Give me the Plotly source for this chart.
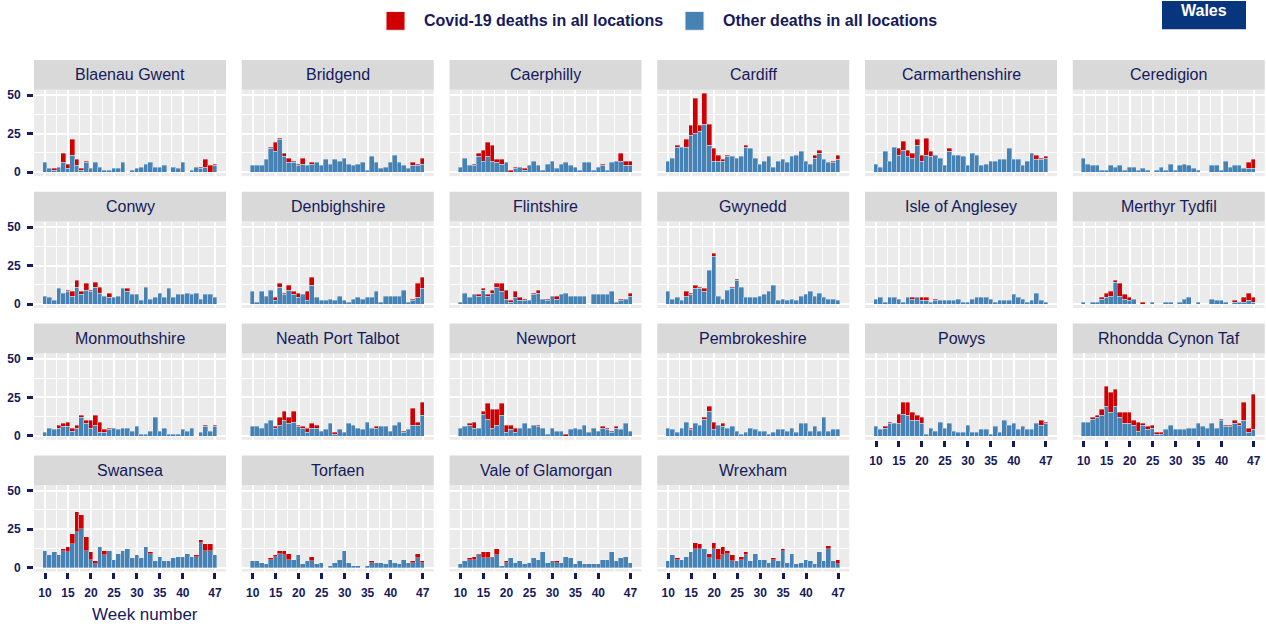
import plotly.graph_objects as go

# data: weekly deaths, weeks 10-47 (2020), by local authority
WEEKS = list(range(10, 48))
TICK_WEEKS = [10, 15, 20, 25, 30, 35, 40, 47]
MINOR_WEEKS = [12.5, 17.5, 22.5, 27.5, 32.5, 37.5, 43.5]
Y_TICKS = [0, 25, 50]
Y_MINOR = [12.5, 37.5]

LEGEND_COVID = "Covid-19 deaths in all locations"
LEGEND_OTHER = "Other deaths in all locations"

blaenau_gwent_other = [6, 2, 1, 3, 6, 2, 11, 4, 1, 6, 2, 6, 3, 1, 1, 2, 2, 6, 0, 1,
                       2, 3, 5, 6, 3, 3, 4, 0, 3, 2, 6, 0, 1, 3, 2, 3, 0, 4]
blaenau_gwent_covid = [0, 0, 1, 0, 6, 3, 10, 4, 1, 1, 0, 0, 0, 0, 0, 0, 0, 0, 0, 0,
                       0, 0, 0, 0, 0, 0, 0, 0, 0, 0, 0, 0, 0, 0, 1, 5, 4, 1]
bridgend_other = [4, 4, 4, 8, 15, 13, 21, 10, 6, 6, 4, 5, 4, 5, 6, 4, 8, 5, 8, 7,
                  9, 5, 4, 5, 6, 1, 10, 6, 2, 3, 6, 11, 6, 4, 2, 4, 4, 5]
bridgend_covid = [0, 0, 0, 0, 1, 6, 1, 2, 3, 1, 1, 4, 0, 1, 0, 0, 0, 0, 0, 0,
                  0, 0, 0, 0, 0, 0, 0, 0, 0, 0, 0, 0, 0, 0, 0, 2, 1, 4]
caerphilly_other = [3, 9, 4, 4, 10, 7, 10, 7, 6, 5, 6, 0, 2, 3, 1, 4, 7, 4, 1, 5,
                    7, 2, 5, 6, 4, 3, 1, 6, 6, 1, 3, 4, 1, 6, 7, 7, 4, 4]
caerphilly_covid = [0, 0, 0, 1, 2, 7, 9, 10, 2, 3, 0, 1, 1, 0, 1, 0, 0, 0, 0, 0,
                    0, 0, 0, 0, 0, 0, 0, 0, 0, 0, 0, 1, 0, 0, 0, 5, 3, 3]
cardiff_other = [7, 9, 16, 16, 16, 24, 25, 26, 31, 17, 7, 7, 7, 10, 10, 9, 10, 16, 15, 9,
                 5, 7, 10, 3, 7, 8, 6, 10, 11, 13, 7, 5, 9, 12, 8, 6, 6, 8]
cardiff_covid = [0, 0, 1, 0, 5, 6, 23, 4, 20, 14, 8, 4, 1, 1, 0, 0, 0, 1, 0, 0,
                 0, 0, 0, 0, 0, 0, 0, 0, 0, 0, 0, 0, 2, 2, 0, 0, 1, 3]
carmarthenshire_other = [5, 3, 13, 7, 16, 11, 14, 10, 9, 17, 7, 11, 10, 11, 9, 4, 13, 11, 11, 10,
                         4, 12, 11, 4, 5, 7, 7, 8, 8, 15, 8, 8, 4, 7, 12, 8, 8, 9]
carmarthenshire_covid = [0, 0, 0, 0, 0, 4, 6, 4, 3, 4, 4, 11, 3, 0, 0, 0, 2, 0, 0, 0,
                         0, 0, 0, 0, 0, 0, 0, 0, 0, 0, 0, 0, 0, 0, 0, 3, 1, 1]
ceredigion_other = [9, 5, 4, 4, 1, 1, 4, 3, 4, 1, 3, 3, 1, 2, 1, 0, 1, 3, 1, 5,
                    1, 4, 5, 4, 2, 1, 0, 0, 4, 4, 1, 7, 3, 4, 4, 2, 2, 2]
ceredigion_covid = [0, 0, 0, 0, 0, 0, 0, 0, 0, 0, 0, 0, 0, 0, 0, 0, 0, 0, 0, 0,
                    0, 0, 0, 0, 0, 0, 0, 0, 0, 0, 0, 0, 0, 0, 0, 0, 4, 6]
conwy_other = [5, 4, 2, 10, 7, 8, 5, 11, 6, 9, 8, 11, 7, 5, 4, 4, 5, 10, 8, 6,
               6, 2, 11, 3, 4, 7, 4, 10, 4, 6, 6, 7, 6, 7, 3, 6, 6, 4]
conwy_covid = [0, 0, 0, 0, 0, 1, 3, 4, 2, 4, 1, 3, 4, 0, 3, 0, 0, 0, 2, 0,
               0, 0, 0, 0, 0, 0, 0, 0, 0, 0, 0, 0, 0, 0, 0, 0, 0, 0]
denbighshire_other = [8, 1, 8, 5, 9, 2, 11, 6, 9, 6, 4, 6, 2, 12, 4, 2, 2, 3, 2, 5,
                      2, 1, 3, 4, 3, 4, 4, 8, 1, 5, 5, 5, 5, 9, 1, 2, 4, 10]
denbighshire_covid = [0, 0, 0, 0, 0, 2, 2, 1, 3, 2, 3, 0, 6, 5, 0, 0, 0, 0, 0, 0,
                      0, 0, 0, 0, 0, 0, 0, 0, 0, 0, 0, 0, 0, 0, 0, 1, 9, 7]
flintshire_other = [1, 7, 4, 6, 5, 9, 5, 7, 11, 8, 3, 1, 4, 2, 2, 2, 6, 7, 3, 2,
                    5, 3, 6, 7, 5, 5, 5, 5, 0, 6, 6, 6, 6, 8, 1, 2, 3, 5]
flintshire_covid = [0, 0, 0, 0, 1, 1, 1, 2, 2, 5, 6, 1, 4, 2, 1, 0, 1, 2, 0, 1,
                    0, 2, 0, 0, 0, 0, 0, 0, 0, 0, 0, 0, 0, 0, 0, 1, 0, 2]
gwynedd_other = [8, 3, 4, 2, 5, 6, 10, 10, 8, 22, 31, 5, 3, 9, 10, 15, 11, 4, 4, 4,
                 5, 6, 8, 12, 2, 3, 2, 3, 2, 5, 6, 8, 5, 7, 4, 3, 3, 2]
gwynedd_covid = [0, 0, 0, 0, 3, 1, 2, 1, 2, 0, 2, 0, 0, 0, 1, 1, 0, 0, 0, 0,
                 0, 0, 0, 0, 0, 0, 0, 0, 0, 0, 0, 0, 0, 0, 0, 0, 0, 0]
anglesey_other = [3, 4, 1, 4, 4, 3, 1, 4, 3, 4, 2, 2, 1, 2, 2, 2, 2, 2, 3, 1,
                  1, 3, 4, 4, 4, 3, 1, 2, 2, 2, 6, 4, 3, 1, 2, 7, 2, 1]
anglesey_covid = [0, 0, 0, 0, 0, 0, 0, 0, 1, 0, 2, 2, 0, 1, 0, 0, 0, 0, 0, 0,
                  0, 0, 0, 0, 0, 0, 0, 0, 0, 0, 0, 0, 0, 0, 0, 0, 0, 0]
merthyr_other = [1, 0, 1, 1, 3, 4, 5, 14, 5, 3, 2, 3, 0, 0, 0, 1, 0, 0, 1, 1,
                 0, 1, 3, 4, 0, 1, 0, 0, 3, 2, 2, 1, 0, 1, 1, 1, 2, 1]
merthyr_covid = [0, 0, 0, 0, 1, 3, 3, 1, 8, 3, 2, 0, 0, 1, 0, 0, 0, 0, 0, 0,
                 0, 0, 0, 0, 0, 0, 0, 0, 0, 0, 0, 0, 0, 1, 0, 3, 5, 3]
monmouthshire_other = [2, 5, 4, 5, 6, 6, 3, 5, 12, 8, 5, 7, 2, 2, 4, 5, 4, 5, 5, 3,
                       6, 1, 1, 3, 12, 3, 5, 1, 1, 1, 4, 3, 5, 0, 2, 6, 3, 6]
monmouthshire_covid = [0, 0, 0, 2, 2, 3, 2, 2, 1, 2, 5, 6, 7, 2, 1, 0, 0, 0, 0, 0,
                       0, 0, 0, 0, 0, 0, 0, 0, 0, 0, 0, 0, 0, 0, 0, 1, 0, 1]
neath_pt_other = [6, 6, 5, 8, 10, 5, 7, 10, 8, 9, 6, 5, 2, 5, 5, 3, 4, 8, 1, 4,
                  2, 8, 7, 5, 4, 9, 5, 5, 6, 6, 3, 7, 9, 2, 4, 7, 7, 13]
neath_pt_covid = [0, 0, 0, 0, 0, 1, 5, 6, 4, 7, 1, 1, 3, 3, 2, 0, 0, 0, 1, 0,
                  0, 0, 0, 0, 0, 0, 0, 1, 0, 0, 0, 0, 0, 1, 0, 11, 2, 9]
newport_other = [5, 6, 7, 5, 5, 14, 11, 5, 7, 13, 2, 4, 2, 5, 8, 5, 7, 6, 5, 1,
                 5, 3, 3, 0, 4, 5, 4, 7, 2, 5, 3, 5, 4, 2, 5, 4, 8, 3]
newport_covid = [0, 0, 1, 4, 0, 2, 10, 12, 10, 8, 5, 3, 3, 0, 0, 0, 0, 1, 0, 0,
                 0, 0, 0, 1, 0, 0, 0, 0, 0, 0, 0, 1, 1, 1, 1, 0, 0, 0]
pembrokeshire_other = [5, 4, 2, 5, 9, 4, 8, 7, 11, 16, 4, 7, 6, 5, 6, 3, 1, 2, 5, 4,
                       3, 3, 1, 2, 4, 4, 3, 5, 2, 8, 8, 3, 6, 3, 12, 3, 4, 4]
pembrokeshire_covid = [0, 0, 0, 0, 0, 1, 0, 0, 1, 3, 5, 0, 2, 0, 0, 0, 0, 0, 0, 0,
                       0, 0, 0, 0, 0, 0, 0, 0, 0, 0, 0, 0, 0, 0, 0, 0, 0, 0]
powys_other = [6, 4, 5, 8, 8, 8, 14, 13, 10, 10, 8, 1, 5, 3, 9, 5, 8, 3, 2, 2,
               7, 2, 2, 4, 4, 1, 6, 2, 10, 7, 8, 4, 6, 4, 4, 8, 7, 8]
powys_covid = [0, 0, 1, 1, 0, 6, 8, 9, 5, 3, 4, 0, 0, 0, 0, 0, 0, 0, 0, 0,
               0, 0, 0, 0, 0, 0, 0, 0, 0, 0, 0, 0, 0, 0, 0, 0, 3, 1]
rhondda_other = [9, 9, 11, 12, 13, 19, 15, 19, 12, 8, 8, 7, 3, 7, 4, 5, 1, 1, 4, 7,
                 4, 4, 4, 5, 5, 8, 6, 5, 8, 5, 10, 6, 6, 8, 7, 10, 2, 4]
rhondda_covid = [0, 0, 1, 1, 4, 13, 13, 11, 3, 7, 7, 3, 6, 1, 2, 2, 1, 1, 0, 0,
                 0, 0, 0, 0, 0, 0, 0, 0, 0, 0, 1, 1, 1, 2, 1, 12, 3, 23]
swansea_other = [11, 8, 10, 8, 11, 10, 15, 23, 25, 11, 5, 2, 13, 8, 11, 5, 9, 11, 12, 6,
                 8, 6, 13, 9, 4, 7, 4, 4, 6, 7, 7, 9, 7, 7, 16, 11, 11, 8]
swansea_covid = [0, 0, 0, 0, 1, 3, 7, 13, 9, 9, 5, 2, 0, 3, 0, 0, 0, 0, 0, 0,
                 0, 0, 0, 1, 0, 0, 0, 0, 0, 0, 0, 0, 0, 1, 2, 4, 4, 0]
torfaen_other = [4, 4, 3, 2, 5, 7, 9, 8, 5, 5, 8, 2, 4, 4, 2, 3, 0, 1, 3, 5,
                 11, 3, 1, 1, 0, 1, 3, 3, 3, 2, 5, 3, 2, 5, 3, 3, 6, 3]
torfaen_covid = [0, 0, 0, 0, 1, 1, 2, 3, 4, 0, 0, 0, 0, 3, 0, 0, 0, 0, 0, 0,
                 0, 0, 0, 0, 0, 0, 1, 0, 0, 0, 0, 0, 0, 0, 0, 1, 3, 1]
vale_other = [2, 4, 5, 5, 8, 6, 6, 6, 8, 1, 3, 6, 3, 4, 2, 3, 6, 5, 10, 3,
              4, 3, 3, 7, 6, 2, 4, 2, 2, 2, 2, 5, 5, 10, 4, 6, 7, 3]
vale_covid = [0, 0, 1, 2, 1, 4, 4, 1, 4, 0, 1, 0, 0, 0, 0, 0, 0, 0, 0, 0,
              0, 1, 0, 0, 0, 0, 0, 0, 0, 0, 0, 0, 0, 0, 0, 0, 0, 0]
wrexham_other = [4, 8, 5, 5, 7, 10, 12, 12, 12, 6, 12, 5, 8, 9, 4, 4, 5, 8, 4, 9,
                 5, 5, 3, 5, 4, 11, 3, 9, 2, 3, 5, 4, 2, 10, 4, 12, 4, 2]
wrexham_covid = [0, 0, 1, 0, 0, 0, 4, 3, 0, 3, 4, 7, 5, 2, 4, 0, 2, 2, 0, 0,
                 0, 0, 0, 1, 0, 1, 0, 0, 0, 0, 0, 0, 0, 0, 0, 2, 0, 3]

AREAS = [
    ("Blaenau Gwent", blaenau_gwent_other, blaenau_gwent_covid),
    ("Bridgend", bridgend_other, bridgend_covid),
    ("Caerphilly", caerphilly_other, caerphilly_covid),
    ("Cardiff", cardiff_other, cardiff_covid),
    ("Carmarthenshire", carmarthenshire_other, carmarthenshire_covid),
    ("Ceredigion", ceredigion_other, ceredigion_covid),
    ("Conwy", conwy_other, conwy_covid),
    ("Denbighshire", denbighshire_other, denbighshire_covid),
    ("Flintshire", flintshire_other, flintshire_covid),
    ("Gwynedd", gwynedd_other, gwynedd_covid),
    ("Isle of Anglesey", anglesey_other, anglesey_covid),
    ("Merthyr Tydfil", merthyr_other, merthyr_covid),
    ("Monmouthshire", monmouthshire_other, monmouthshire_covid),
    ("Neath Port Talbot", neath_pt_other, neath_pt_covid),
    ("Newport", newport_other, newport_covid),
    ("Pembrokeshire", pembrokeshire_other, pembrokeshire_covid),
    ("Powys", powys_other, powys_covid),
    ("Rhondda Cynon Taf", rhondda_other, rhondda_covid),
    ("Swansea", swansea_other, swansea_covid),
    ("Torfaen", torfaen_other, torfaen_covid),
    ("Vale of Glamorgan", vale_other, vale_covid),
    ("Wrexham", wrexham_other, wrexham_covid),
]

# style
W, H = 1266, 627
NAVY = "#16195c"
RED = "#d10000"
BLUE = "#4682b4"
PANEL_BG = "#ebebeb"
STRIP_BG = "#d9d9d9"
FONT = "Liberation Sans, Arial, sans-serif"
NCOL = 6


def fx(px):
    return px / W


def fy(px):
    return 1 - px / H


fig = go.Figure()
shapes = []
annotations = []

for i, (name, other, covid) in enumerate(AREAS):
    r, c = divmod(i, NCOL)
    left = 34 + c * 207.75
    right = left + 192
    strip_top = 59.3 + r * 132.67
    top = strip_top + 30
    bottom = top + 87
    n = i + 1
    sfx = "" if n == 1 else str(n)
    has_x = i + NCOL >= len(AREAS)  # nothing below -> show week axis
    has_y = c == 0

    fig.add_trace(go.Bar(
        x=WEEKS, y=other, width=1, name=LEGEND_OTHER, showlegend=False,
        marker=dict(color=BLUE, line=dict(color="rgba(235,240,248,0.6)", width=0.6)),
        xaxis="x" + sfx, yaxis="y" + sfx,
    ))
    fig.add_trace(go.Bar(
        x=WEEKS, y=[v if v else None for v in covid], width=1, name=LEGEND_COVID,
        showlegend=False,
        marker=dict(color=RED, line=dict(color="rgba(235,240,248,0.6)", width=0.6)),
        xaxis="x" + sfx, yaxis="y" + sfx,
    ))

    fig.update_layout(**{
        "xaxis" + sfx: dict(
            domain=[fx(left), fx(right)], anchor="y" + sfx, range=[7.6, 49.4],
            tickmode="array", tickvals=TICK_WEEKS, ticktext=[str(t) for t in TICK_WEEKS],
            showticklabels=has_x, ticks="outside" if has_x else "",
            ticklen=6, tickwidth=2.5, tickcolor=NAVY, ticklabelstandoff=4,
            tickfont=dict(family=FONT, size=12, color=NAVY, weight="bold"),
            showgrid=True, gridcolor="white", gridwidth=1.5,
            minor=dict(tickvals=MINOR_WEEKS, showgrid=True, gridcolor="white", gridwidth=1.2),
            zeroline=False, showline=False, fixedrange=True,
        ),
        "yaxis" + sfx: dict(
            domain=[fy(bottom), fy(top)], anchor="x" + sfx, range=[-2.55, 53.55],
            tickmode="array", tickvals=Y_TICKS,
            showticklabels=has_y, ticks="outside" if has_y else "",
            ticklen=6, tickwidth=2.5, tickcolor=NAVY, ticklabelstandoff=4,
            tickfont=dict(family=FONT, size=12, color=NAVY, weight="bold"),
            showgrid=True, gridcolor="white", gridwidth=1.5,
            minor=dict(tickvals=Y_MINOR, showgrid=True, gridcolor="white", gridwidth=1.2),
            zeroline=False, showline=False, fixedrange=True,
        ),
    })

    # facet strip
    shapes.append(dict(type="rect", xref="paper", yref="paper",
                       x0=fx(left), x1=fx(right), y0=fy(top), y1=fy(strip_top),
                       fillcolor=STRIP_BG, line=dict(width=0), layer="below"))
    annotations.append(dict(text=name, xref="paper", yref="paper",
                            x=fx((left + right) / 2), y=fy(strip_top + 15),
                            xanchor="center", yanchor="middle", showarrow=False,
                            font=dict(family=FONT, size=16, color=NAVY)))

# legend drawn at the top
for x0, color, label in [(386, RED, LEGEND_COVID), (685, BLUE, LEGEND_OTHER)]:
    shapes.append(dict(type="rect", xref="paper", yref="paper",
                       x0=fx(x0), x1=fx(x0 + 19), y0=fy(29.5), y1=fy(10.5),
                       fillcolor=color, line=dict(color="#f2f2f2", width=1)))
    annotations.append(dict(text=label, xref="paper", yref="paper",
                            x=fx(x0 + 36), y=fy(20), xanchor="left", yanchor="middle",
                            showarrow=False,
                            font=dict(family=FONT, size=16, color=NAVY, weight="bold")))

# "Wales" badge
shapes.append(dict(type="rect", xref="paper", yref="paper",
                   x0=fx(1162), x1=fx(1246), y0=fy(28.5), y1=fy(0),
                   fillcolor="#08367c", line=dict(width=0)))
annotations.append(dict(text="Wales", xref="paper", yref="paper",
                        x=fx(1204), y=fy(9.5), xanchor="center", yanchor="middle",
                        showarrow=False,
                        font=dict(family=FONT, size=16, color="white", weight="bold")))

# x axis title
annotations.append(dict(text="Week number", xref="paper", yref="paper",
                        x=fx(145), y=fy(617), xanchor="center", yanchor="middle",
                        showarrow=False, font=dict(family=FONT, size=17, color=NAVY)))

fig.update_layout(
    width=W, height=H,
    margin=dict(l=0, r=0, t=0, b=0),
    paper_bgcolor="white", plot_bgcolor=PANEL_BG,
    barmode="stack", bargap=0,
    showlegend=False,
    shapes=shapes, annotations=annotations,
    font=dict(family=FONT, color=NAVY),
)

# the page's default body margin would push the fixed-size figure off the window
fig.write_html("out.html", config={"displayModeBar": False},
               post_script="document.body.style.margin='0';")
